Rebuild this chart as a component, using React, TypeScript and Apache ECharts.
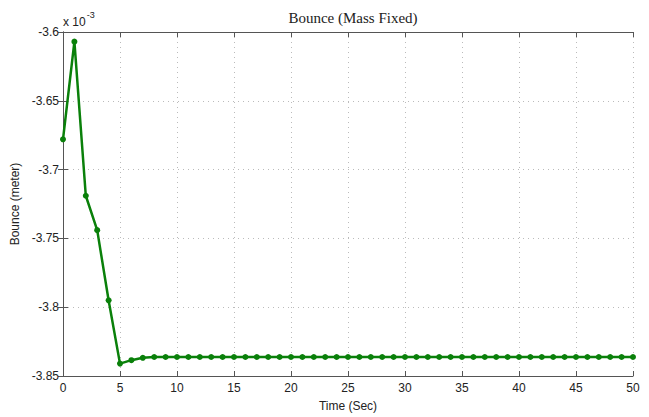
import React, { useEffect, useRef } from "react";
import * as echarts from "echarts";

const times: number[] = [
  0, 1, 2, 3, 4, 5, 6, 7, 8, 9, 10, 11, 12, 13, 14, 15, 16, 17, 18, 19, 20, 21, 22, 23, 24, 25,
  26, 27, 28, 29, 30, 31, 32, 33, 34, 35, 36, 37, 38, 39, 40, 41, 42, 43, 44, 45, 46, 47, 48, 49, 50,
];
const bounce: number[] = [
  -3.678, -3.607, -3.719, -3.744, -3.795, -3.841, -3.8385, -3.8368, -3.8362, -3.8362, -3.8362,
  -3.8362, -3.8362, -3.8362, -3.8362, -3.8362, -3.8362, -3.8362, -3.8362, -3.8362, -3.8362,
  -3.8362, -3.8362, -3.8362, -3.8362, -3.8362, -3.8362, -3.8362, -3.8362, -3.8362, -3.8362,
  -3.8362, -3.8362, -3.8362, -3.8362, -3.8362, -3.8362, -3.8362, -3.8362, -3.8362, -3.8362,
  -3.8362, -3.8362, -3.8362, -3.8362, -3.8362, -3.8362, -3.8362, -3.8362, -3.8362, -3.8362,
];
const title = "Bounce (Mass Fixed)";
const xName = "Time (Sec)";
const yName = "Bounce (meter)";

export default function App() {
  const ref = useRef<HTMLDivElement>(null);
  useEffect(() => {
    if (!ref.current) return;
    const chart = echarts.init(ref.current, undefined, { renderer: "svg" });
    const labelFont = { fontFamily: "Liberation Sans, Arial, sans-serif", fontSize: 12, color: "#222" };
    const axisLine = { show: true, lineStyle: { color: "#555", width: 1 } };
    chart.setOption({
      animation: false,
      backgroundColor: "#fff",
      title: {
        text: title,
        left: 348,
        top: 5,
        textAlign: "center",
        textStyle: { fontFamily: "Liberation Serif, Times New Roman, serif", fontSize: 15, fontWeight: "normal", color: "#222" },
      },
      grid: { left: 63, top: 32, right: 16, bottom: 40, containLabel: false },
      xAxis: [
        {
          type: "value",
          min: 0,
          max: 50,
          interval: 5,
          name: xName,
          nameLocation: "middle",
          nameGap: 24,
          nameTextStyle: { ...labelFont },
          axisLine,
          axisTick: { show: true, inside: true, length: 5, lineStyle: { color: "#555" } },
          axisLabel: { ...labelFont, margin: 6 },
          splitLine: { show: true, lineStyle: { color: "#bbb", type: [1, 4], width: 1 } },
        },
        {
          type: "value",
          position: "top",
          min: 0,
          max: 50,
          interval: 5,
          axisLine,
          axisTick: { show: true, inside: true, length: 5, lineStyle: { color: "#555" } },
          axisLabel: { show: false },
          splitLine: { show: false },
        },
      ],
      yAxis: [
        {
          type: "value",
          min: -3.85,
          max: -3.6,
          interval: 0.05,
          name: yName,
          nameLocation: "middle",
          nameGap: 37,
          nameTextStyle: { ...labelFont },
          axisLine,
          axisTick: { show: true, inside: true, length: 5, lineStyle: { color: "#555" } },
          axisLabel: {
            ...labelFont,
            margin: 4,
            formatter: (v: number) => String(Number(v.toFixed(2))),
          },
          splitLine: { show: true, lineStyle: { color: "#bbb", type: [1, 4], width: 1 } },
        },
        {
          type: "value",
          position: "right",
          min: -3.85,
          max: -3.6,
          interval: 0.05,
          axisLine,
          axisTick: { show: true, inside: true, length: 5, lineStyle: { color: "#555" } },
          axisLabel: { show: false },
          splitLine: { show: false },
        },
      ],
      graphic: [
        {
          type: "text",
          left: 63,
          top: 10,
          style: {
            text: "{a|x 10}{b|-3}",
            rich: {
              a: { fontFamily: "Liberation Sans, Arial, sans-serif", fontSize: 12, fill: "#222", padding: [8, 0, 0, 0] },
              b: { fontFamily: "Liberation Sans, Arial, sans-serif", fontSize: 9, fill: "#222", padding: [0, 0, 6, 1] },
            },
          },
        },
      ],
      series: [
        {
          type: "line",
          data: times.map((t, i) => [t, bounce[i]]),
          lineStyle: { color: "#0a800a", width: 2.5 },
          itemStyle: { color: "#0a800a" },
          symbol: "circle",
          symbolSize: 6,
          showSymbol: true,
        },
      ],
    });
    return () => chart.dispose();
  }, []);
  return <div ref={ref} style={{ position: "fixed", left: 0, top: 0, width: 649, height: 417 }} />;
}
